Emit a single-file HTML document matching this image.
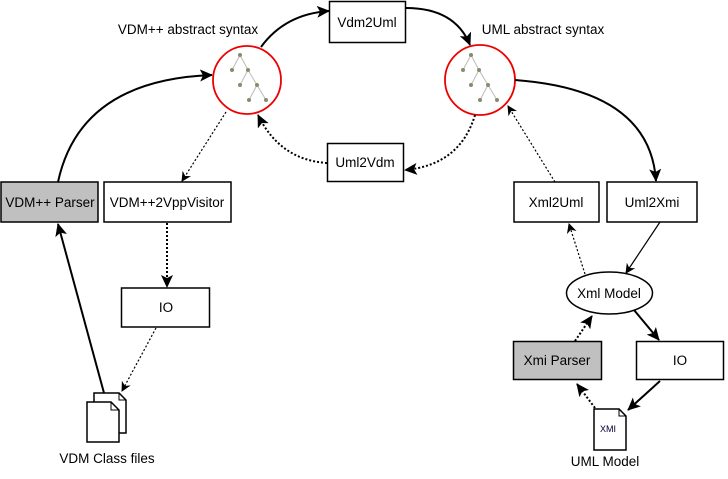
<!DOCTYPE html>
<html><head><style>
body{margin:0;background:#fff;width:728px;height:474px;overflow:hidden}
svg{font-family:"Liberation Sans",sans-serif;font-size:13.5px}
</style></head><body>
<svg width="728" height="474" viewBox="0 0 728 474" xmlns="http://www.w3.org/2000/svg">
<defs>
<marker id="a" markerWidth="10" markerHeight="10" refX="9" refY="5" orient="auto" markerUnits="userSpaceOnUse"><path d="M0,0 L10,5 L0,10 L3,5 z" fill="#000"/></marker>
<marker id="b" markerWidth="13" markerHeight="12" refX="12" refY="6" orient="auto" markerUnits="userSpaceOnUse"><path d="M0,0 L13,6 L0,12 L3,6 z" fill="#000"/></marker>
<g id="tree" stroke="#bbb" fill="#8a8a6a">
<line x1="0" y1="0" x2="-8" y2="15"/><line x1="0" y1="0" x2="8" y2="15"/>
<line x1="8" y1="15" x2="0" y2="30"/><line x1="8" y1="15" x2="17" y2="30"/>
<line x1="17" y1="30" x2="9" y2="45"/><line x1="17" y1="30" x2="26" y2="45"/>
<circle cx="0" cy="0" r="2" stroke="none"/><circle cx="-8" cy="15" r="2" stroke="none"/><circle cx="8" cy="15" r="2" stroke="none"/><circle cx="0" cy="30" r="2" stroke="none"/><circle cx="17" cy="30" r="2" stroke="none"/><circle cx="9" cy="45" r="2" stroke="none"/><circle cx="26" cy="45" r="2" stroke="none"/>
</g>
</defs>
<g fill="none" stroke="#000">
<circle cx="247" cy="80" r="34" stroke="#e00" stroke-width="1.8" fill="#fff"/>
<circle cx="480" cy="80" r="35" stroke="#e00" stroke-width="1.8" fill="#fff"/>
<rect x="329.5" y="1.5" width="76" height="41" stroke-width="1.5"/>
<rect x="327.5" y="143.5" width="76" height="38" stroke-width="1.5"/>
<rect x="1" y="182" width="97" height="40" fill="#c0c0c0" stroke-width="1.5"/>
<rect x="104" y="182" width="127" height="40" stroke-width="1.5"/>
<rect x="121.5" y="288" width="88" height="39" stroke-width="1.5"/>
<rect x="514" y="182" width="85" height="40" stroke-width="1.5"/>
<rect x="607" y="182" width="90" height="40" stroke-width="1.5"/>
<ellipse cx="609.5" cy="293" rx="43" ry="21" stroke-width="1.5"/>
<rect x="513.5" y="341.5" width="88" height="38" fill="#c0c0c0" stroke-width="1.5"/>
<rect x="636.5" y="341.5" width="87" height="38" stroke-width="1.5"/>
<path d="M94,393 H119 L126,400 V433 H94 Z" fill="#fff" stroke-width="1.5"/>
<path d="M87,402 H111 L119,410 V442 H87 Z" fill="#fff" stroke-width="1.5"/>
<path d="M111,402 V410 H119" stroke-width="1"/>
<path d="M119,393 V400 H126" stroke-width="1"/>
<path d="M594,409 H619 L626,416 V450 H594 Z" fill="#fff" stroke-width="1.5"/>
<path d="M619,409 V416 H626" stroke-width="1"/>
<path d="M261,47 Q285,14 329,11" stroke-width="2" marker-end="url(#b)"/>
<path d="M406,8 Q455,8 470,45" stroke-width="2" marker-end="url(#b)"/>
<path d="M515,80 Q650,90 656,181" stroke-width="2" marker-end="url(#b)"/>
<path d="M58,182 Q80,80 212,75" stroke-width="2" marker-end="url(#b)"/>
<path d="M104,393 L58,224" stroke-width="2" marker-end="url(#b)"/>
<path d="M660,222 L626,273" stroke-width="1.2" marker-end="url(#a)"/>
<path d="M634,310 L659,340" stroke-width="2" marker-end="url(#b)"/>
<path d="M660,381 L628,410" stroke-width="2" marker-end="url(#b)"/>
<g stroke-dasharray="2,2">
<path d="M475,115 Q460,165 405,170" stroke-width="2" marker-end="url(#b)"/>
<path d="M327,163 Q280,160 258,115" stroke-width="2" marker-end="url(#b)"/>
<path d="M226,112 L182,181" stroke-width="1.2" marker-end="url(#a)"/>
<path d="M167,223 L167,287" stroke-width="2" marker-end="url(#b)"/>
<path d="M156,328 L122,391" stroke-width="1.2" marker-end="url(#a)"/>
<path d="M555,182 L508,106" stroke-width="1.2" marker-end="url(#a)"/>
<path d="M585,274 L569,224" stroke-width="1.2" marker-end="url(#a)"/>
<path d="M575,341 L592,316" stroke-width="2" marker-end="url(#b)"/>
<path d="M595,408 L577,384" stroke-width="2" marker-end="url(#b)"/>
</g>
</g>
<use href="#tree" x="240" y="55"/>
<use href="#tree" x="471" y="55"/>
<g fill="#000" text-anchor="middle">
<text x="188" y="34">VDM++ abstract syntax</text>
<text x="543" y="34">UML abstract syntax</text>
<text x="367" y="27">Vdm2Uml</text>
<text x="365" y="167">Uml2Vdm</text>
<text x="50" y="207">VDM++ Parser</text>
<text x="167" y="207">VDM++2VppVisitor</text>
<text x="166" y="312">IO</text>
<text x="107" y="463">VDM Class files</text>
<text x="556" y="207">Xml2Uml</text>
<text x="652" y="207">Uml2Xmi</text>
<text x="609" y="298">Xml Model</text>
<text x="557" y="365">Xmi Parser</text>
<text x="680" y="365">IO</text>
<text x="608" y="432" font-size="9" fill="#003">XMI</text>
<text x="605" y="466">UML Model</text>
</g>
</svg>
</body></html>
